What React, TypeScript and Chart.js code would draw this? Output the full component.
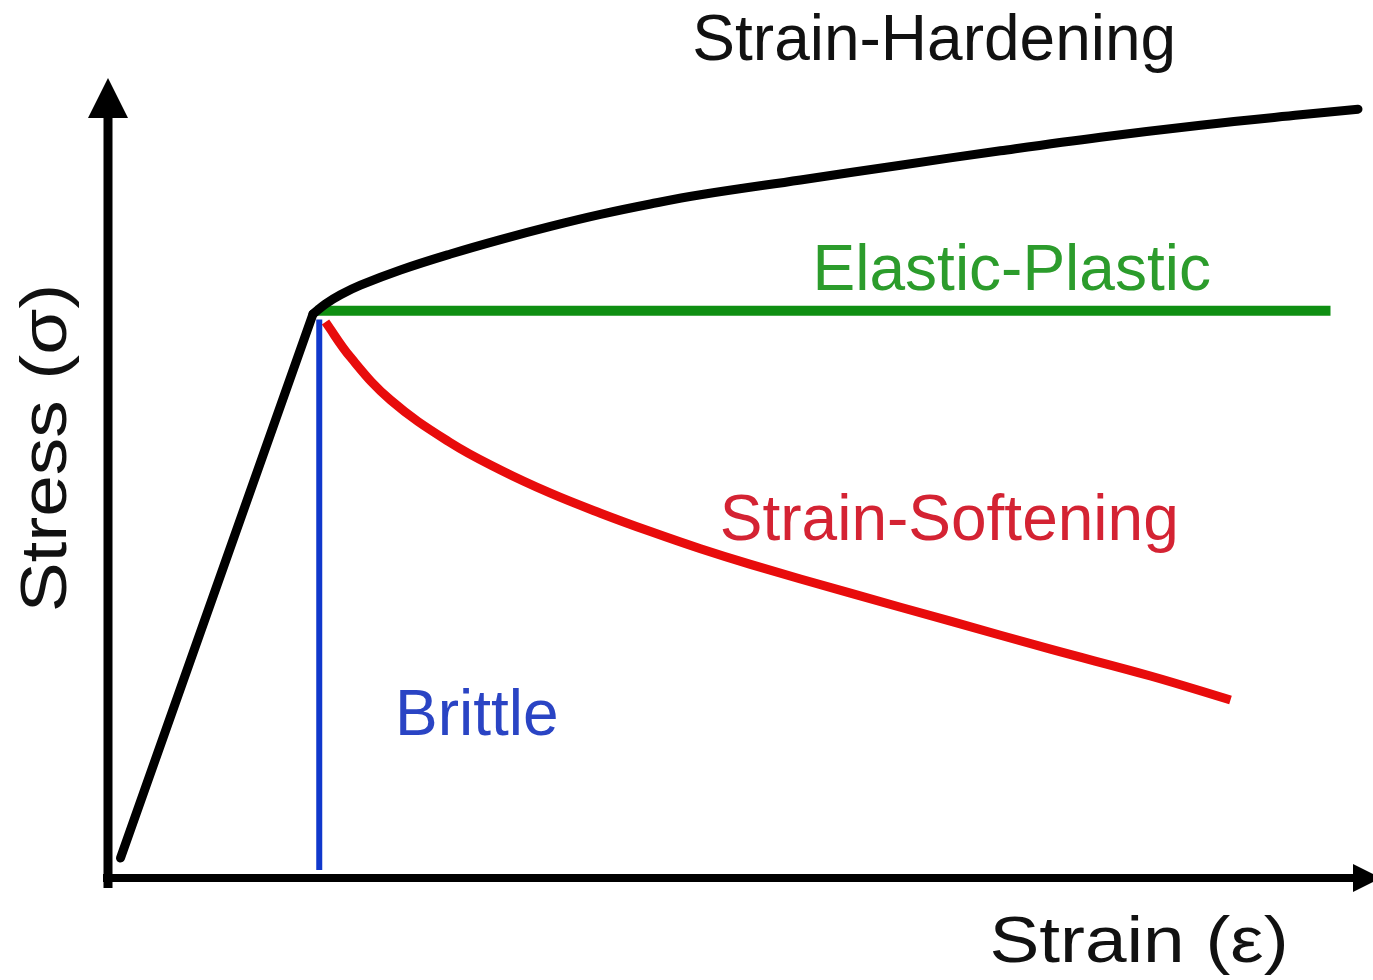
import React, { useEffect, useRef } from "react";
import { Chart, registerables } from "chart.js";

Chart.register(...registerables);

// Strain (x, 0-101.2) / Stress (y, 0-100) in arbitrary units
const elasticStrain = [1.0, 16.4];
const elasticStress = [2.5, 70.5];

const hardeningStrain = [16.4, 17.4, 18.6, 20.2, 23.4, 27.4, 31.4, 35.4, 39.4, 43.4, 47.4, 55.4, 63.4, 71.4, 79.4, 87.4, 95.4, 100.0];
const hardeningStress = [70.5, 71.75, 72.9, 74.1, 76.0, 78.0, 79.8, 81.45, 82.95, 84.25, 85.4, 87.25, 89.1, 90.9, 92.6, 94.1, 95.4, 96.1];

const plasticStrain = [16.6, 97.8];
const plasticStress = [70.9, 70.9];

const brittleStrain = [16.9, 16.9];
const brittleStress = [69.8, 1.0];

const softeningStrain = [17.4, 19.4, 22.6, 27.4, 31.4, 35.4, 39.4, 43.4, 47.4, 51.4, 59.4, 67.4, 75.4, 83.4, 89.8];
const softeningStress = [69.5, 65.1, 59.75, 54.4, 51.0, 48.1, 45.6, 43.3, 41.15, 39.2, 35.6, 32.1, 28.6, 25.25, 22.25];

const labels = ["Strain-Hardening", "Elastic-Plastic", "Strain-Softening", "Brittle"];
const labelStrain = [66.1, 72.3, 67.3, 29.5];
const labelStress = [102.3, 73.5, 42.3, 17.9];
const labelColors = ["#111111", "#2c9c2c", "#d42333", "#2a44c4"];

const xAxisTitle = "Strain (ε)";
const yAxisTitle = "Stress (σ)";

const FONT = '"Liberation Sans", Arial, sans-serif';

const pts = (xs: number[], ys: number[]) => xs.map((x, i) => ({ x, y: ys[i] }));

const axesPlugin = {
  id: "axesPlugin",
  afterDatasetsDraw(chart: any) {
    const { ctx, scales } = chart;
    const xs = scales.x;
    const ys = scales.y;
    const x0 = xs.getPixelForValue(0);
    const y0 = ys.getPixelForValue(0);
    const yTop = ys.getPixelForValue(100);
    const xRight = xs.getPixelForValue(xs.max);
    ctx.save();
    ctx.fillStyle = "#000";
    ctx.strokeStyle = "#000";
    // y axis
    ctx.lineWidth = 9;
    ctx.beginPath();
    ctx.moveTo(x0, y0 + 10);
    ctx.lineTo(x0, yTop + 38);
    ctx.stroke();
    ctx.beginPath();
    ctx.moveTo(x0, yTop);
    ctx.lineTo(x0 - 20, yTop + 40);
    ctx.lineTo(x0 + 20, yTop + 40);
    ctx.closePath();
    ctx.fill();
    // x axis
    ctx.lineWidth = 8;
    ctx.beginPath();
    ctx.moveTo(x0 - 5, y0);
    ctx.lineTo(xRight - 18, y0);
    ctx.stroke();
    ctx.beginPath();
    ctx.moveTo(xRight + 8, y0);
    ctx.lineTo(xRight - 20, y0 - 14);
    ctx.lineTo(xRight - 20, y0 + 14);
    ctx.closePath();
    ctx.fill();

    // labels
    ctx.textAlign = "center";
    ctx.textBaseline = "alphabetic";
    ctx.font = `64px ${FONT}`;
    labels.forEach((t, i) => {
      ctx.fillStyle = labelColors[i];
      ctx.fillText(t, xs.getPixelForValue(labelStrain[i]), ys.getPixelForValue(labelStress[i]));
    });
    // axis titles (slightly stretched along the baseline like the reference)
    ctx.fillStyle = "#111";
    ctx.font = `65px ${FONT}`;
    ctx.save();
    ctx.translate(1139, 962);
    ctx.scale(1.15, 1);
    ctx.fillText(xAxisTitle, 0, 0);
    ctx.restore();
    ctx.save();
    ctx.translate(66, 448);
    ctx.rotate(-Math.PI / 2);
    ctx.scale(1.15, 1);
    ctx.fillText(yAxisTitle, 0, 0);
    ctx.restore();
    ctx.restore();
  },
};

export default function App() {
  const ref = useRef<HTMLCanvasElement | null>(null);
  useEffect(() => {
    if (!ref.current) return;
    const chart = new Chart(ref.current, {
      type: "scatter",
      data: {
        datasets: [
          {
            label: "Elastic-Plastic",
            data: pts(plasticStrain, plasticStress),
            showLine: true,
            borderColor: "#0f8f12",
            borderWidth: 10,
            pointRadius: 0,
            borderCapStyle: "butt",
            order: 4,
          },
          {
            label: "Brittle",
            data: pts(brittleStrain, brittleStress),
            showLine: true,
            borderColor: "#1038cc",
            borderWidth: 6,
            pointRadius: 0,
            order: 3,
          },
          {
            label: "Strain-Softening",
            data: pts(softeningStrain, softeningStress),
            showLine: true,
            borderColor: "#e80c0c",
            borderWidth: 9,
            pointRadius: 0,
            tension: 0.4,
            order: 2,
          },
          {
            label: "Elastic",
            data: pts(elasticStrain, elasticStress),
            showLine: true,
            borderColor: "#000",
            borderWidth: 9,
            pointRadius: 0,
            borderCapStyle: "round",
            order: 1,
          },
          {
            label: "Strain-Hardening",
            data: pts(hardeningStrain, hardeningStress),
            showLine: true,
            borderColor: "#000",
            borderWidth: 9,
            pointRadius: 0,
            tension: 0.4,
            borderCapStyle: "round",
            order: 0,
          },
        ],
      },
      options: {
        animation: false,
        responsive: false,
        maintainAspectRatio: false,
        layout: { padding: { left: 108, right: 0, top: 78, bottom: 102 } },
        scales: {
          x: { type: "linear", min: 0, max: 101.2, display: false },
          y: { type: "linear", min: 0, max: 100, display: false },
        },
        plugins: {
          legend: { display: false },
          tooltip: { enabled: false },
        },
      },
      plugins: [axesPlugin],
    } as any);
    return () => chart.destroy();
  }, []);
  return (
    <div style={{ position: "fixed", left: 0, top: 0, width: 1373, height: 980, background: "#fff" }}>
      <canvas ref={ref} width={1373} height={980} style={{ width: 1373, height: 980 }} />
    </div>
  );
}
